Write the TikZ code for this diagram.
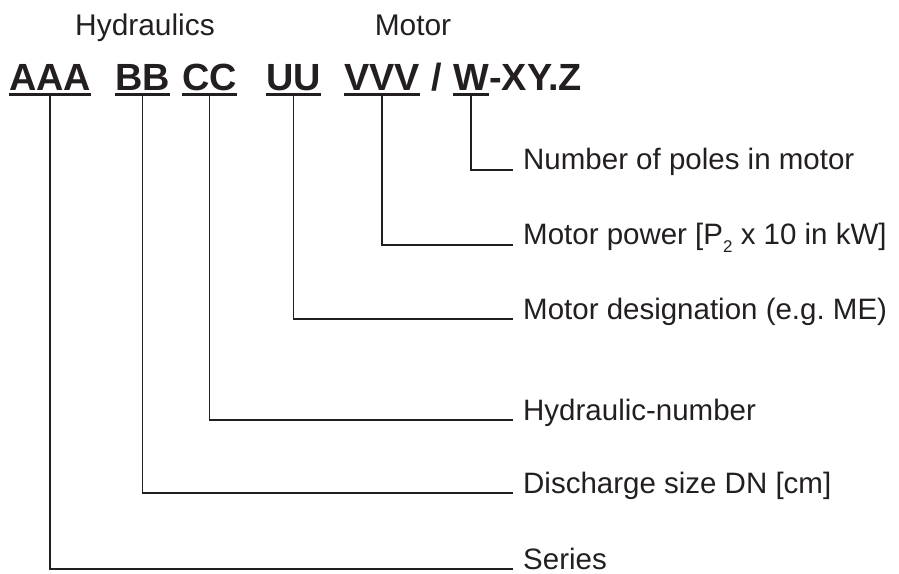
\documentclass[tikz,border=0pt]{standalone}
\usepackage{fontspec}
\setmainfont{Liberation Sans}
\usetikzlibrary{positioning}
\definecolor{ink}{HTML}{231F20}

\tikzset{
  code/.style={font=\fontsize{38}{44}\selectfont\bfseries, inner sep=0, anchor=base west, text=ink},
  head/.style={font=\fontsize{30}{36}\selectfont, inner sep=0, anchor=base, text=ink},
  lab/.style={font=\fontsize{29.6}{36}\selectfont, inner xsep=10bp, inner ysep=0, anchor=base west, text=ink},
  uline/.style={draw=ink, line width=3bp},
  lead/.style={draw=ink, line width=1.7bp},
}

\begin{document}
\begin{tikzpicture}[x=1bp, y=-1bp]
  \useasboundingbox (0,0) rectangle (899,574);
  % group titles
  \node[head] (hyd) at (145,36) {Hydraulics};
  \node[head] (mot) at (413,36) {Motor};
  % type key
  \node[code] (AAA) at (9,91) {AAA};
  \node[code] (BB) at (115,91) {BB};
  \node[code] (CC) at (182,91) {CC};
  \node[code] (UU) at (266,91) {UU};
  \node[code] (VVV) at (344,91) {VVV};
  \node[code] (sl) at (431,91) {/};
  \node[code] (W) at (453,91) {W};
  \node[code] (XYZ) at (W.base east) {-XY.Z};
  \foreach \p in {AAA,BB,CC,UU,VVV,W}
    \draw[uline] ([yshift=-4bp]\p.base west) -- ([yshift=-4bp]\p.base east);
  % meanings
  \node[lab] (poles) at (513,170) {Number of poles in motor};
  \node[lab] (pow) at (513,245) {Motor power [P\raisebox{-8bp}{\fontsize{17}{17}\selectfont 2} x 10 in kW]};
  \node[lab] (desig) at (513,319) {Motor designation (e.g.\ ME)};
  \node[lab] (hydno) at (513,420) {Hydraulic-number};
  \node[lab] (dis) at (513,493) {Discharge size DN [cm]};
  \node[lab] (ser) at (513,569) {Series};
  \foreach \k/\l in {W/poles,VVV/pow,UU/desig,CC/hydno,BB/dis,AAA/ser}
    \draw[lead] ([yshift=-5bp]\k.base) |- (\l.base west);
\end{tikzpicture}
\end{document}
